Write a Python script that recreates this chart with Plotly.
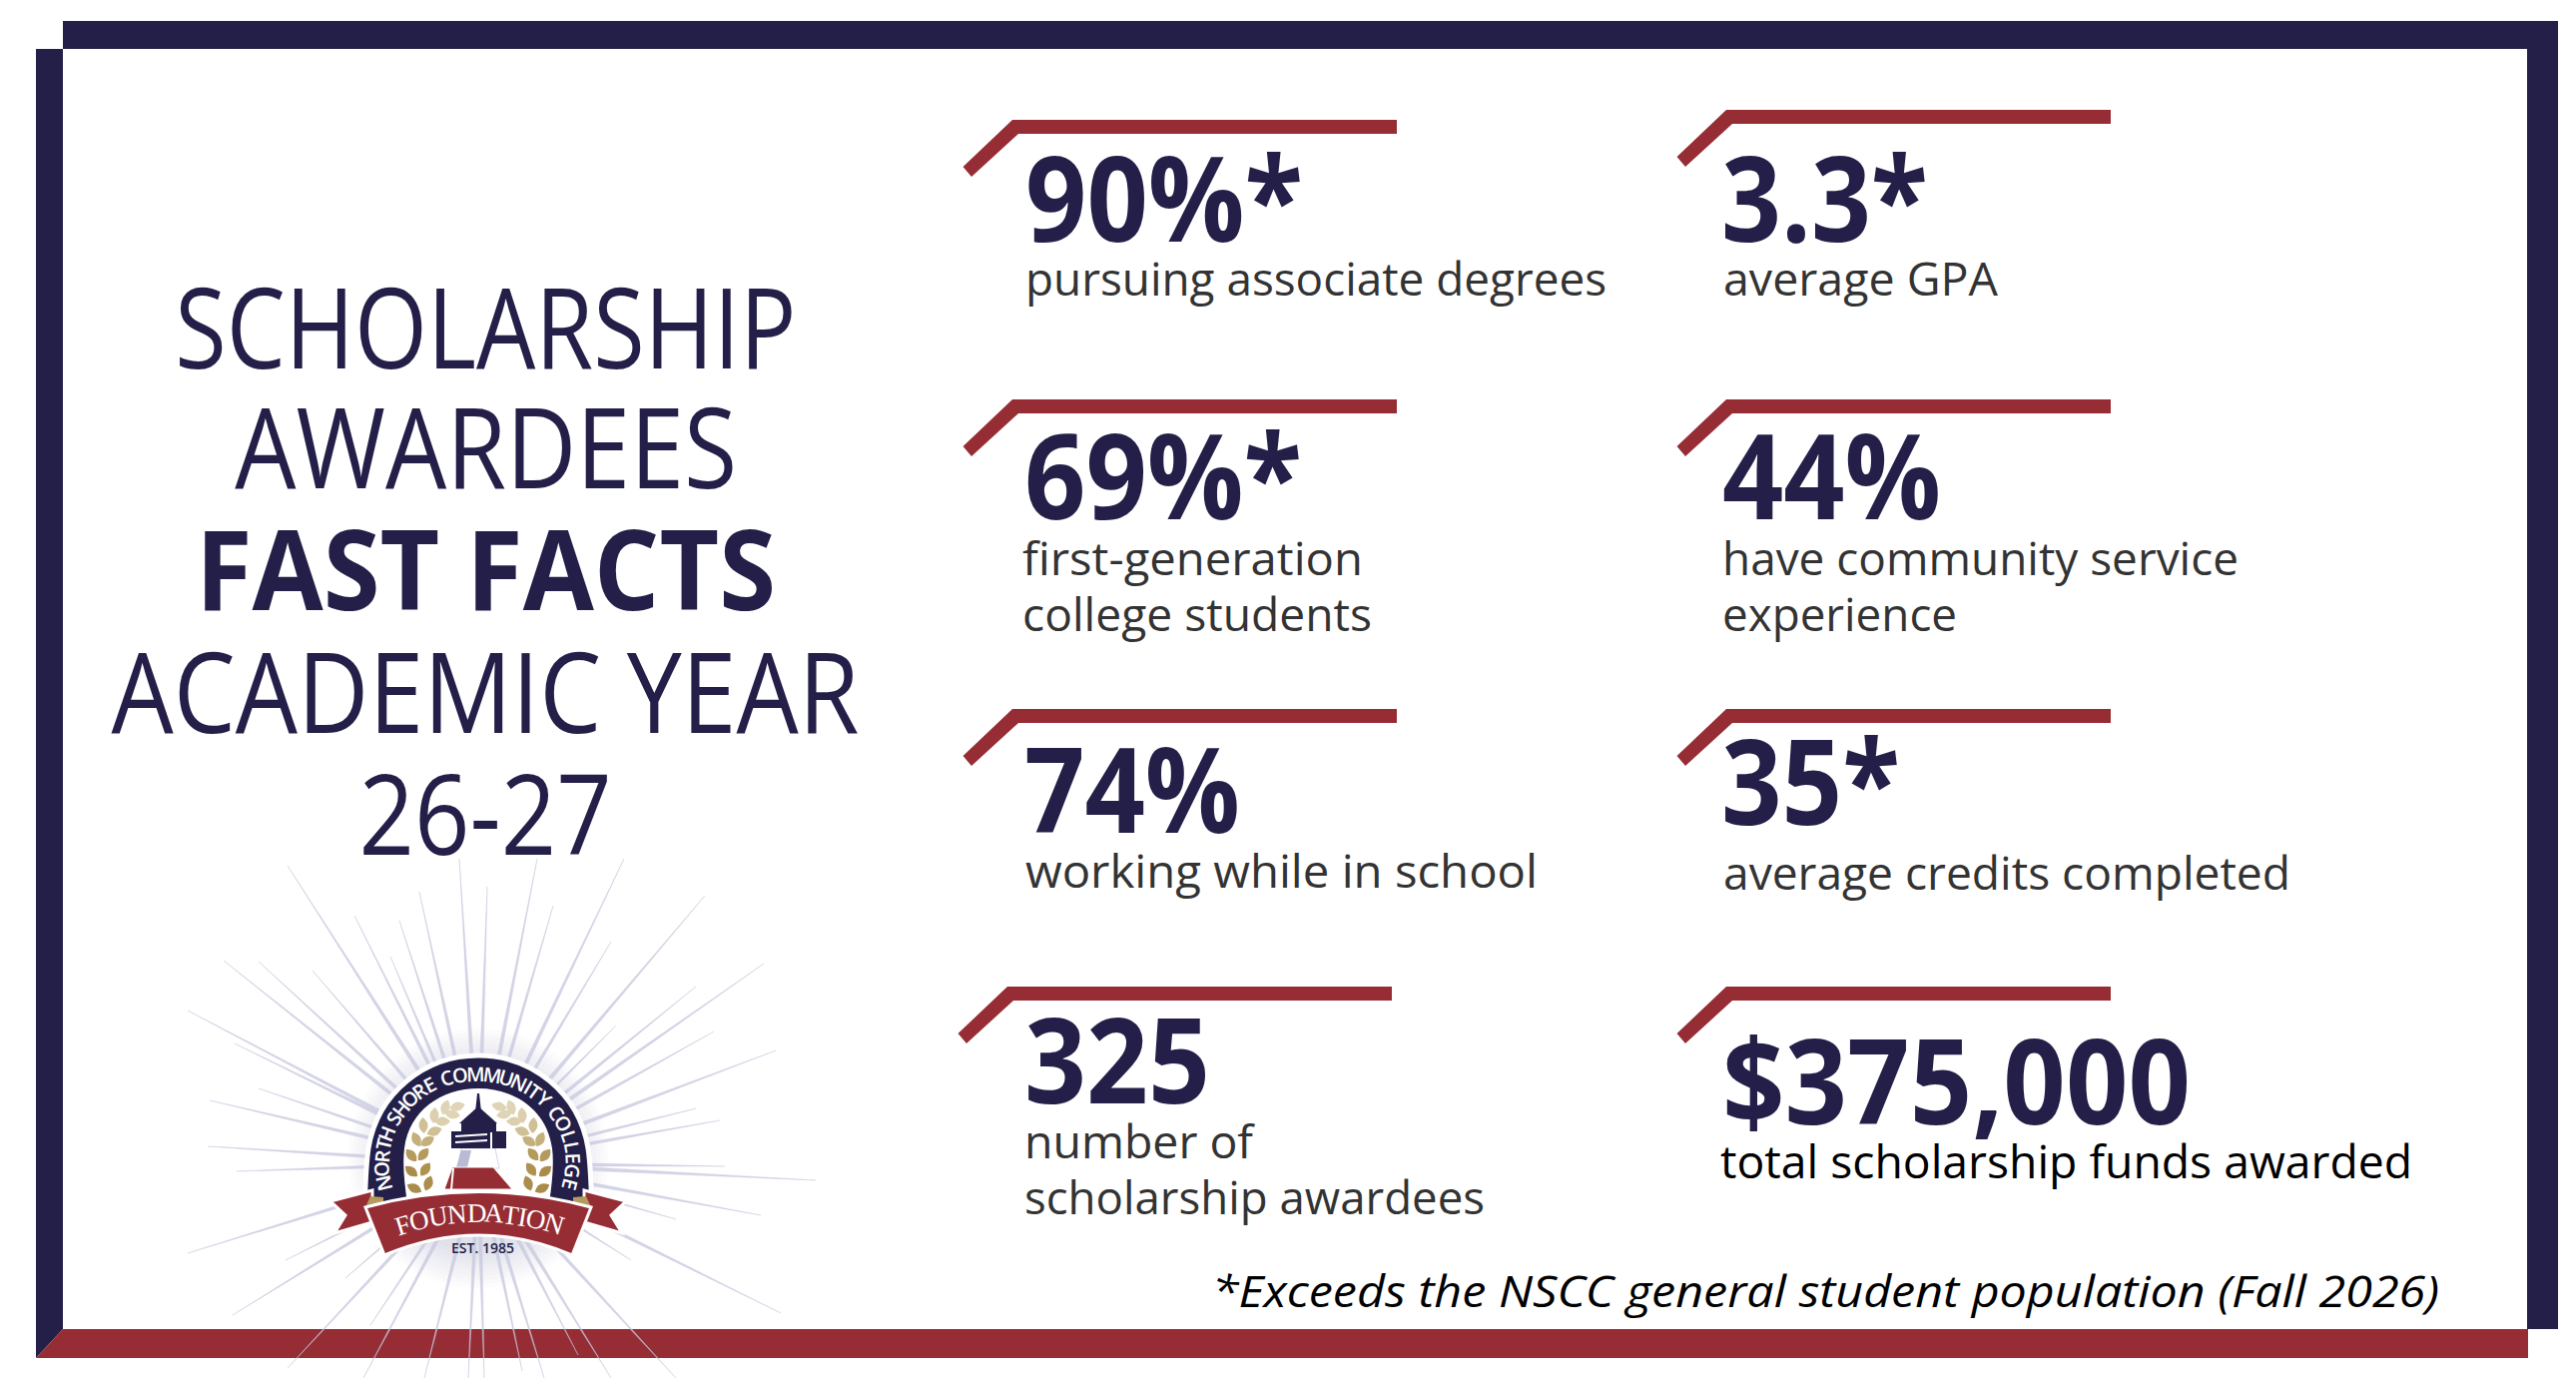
import json
import numpy as np
import plotly.graph_objects as go

# text and values
title_lines = ["SCHOLARSHIP", "AWARDEES", "FAST FACTS", "ACADEMIC YEAR", "26-27"]
title_bold = [False, False, True, False, False]
stat_values = ["90%*", "3.3*", "69%*", "44%", "74%", "35*", "325", "$375,000"]
stat_labels = [
    ["pursuing associate degrees"],
    ["average GPA"],
    ["first-generation", "college students"],
    ["have community service", "experience"],
    ["working while in school"],
    ["average credits completed"],
    ["number of", "scholarship awardees"],
    ["total scholarship funds awarded"],
]
footnote = "*Exceeds the NSCC general student population (Fall 2026)"
logo_arch_text = "NORTH SHORE COMMUNITY COLLEGE"
logo_ribbon_text = "FOUNDATION"
logo_est = "EST. 1985"

NAVY = "#231f48"
RED = "#962d35"
GREY = "#333333"
SANS = "Open Sans"

# layout, in pixels of the 2580x1380 page
num_x = [1026, 1723, 1025, 1724, 1025, 1723, 1025, 1724]
num_base = [243, 243, 521, 521, 835, 827, 1106, 1127]
label_x = [1026, 1725, 1023, 1724, 1026, 1725, 1025, 1722]
label_base = [297, 297, 577, 577, 890, 892, 1161, 1181]
chev_corner = [1014, 1729, 1014, 1729, 1014, 1729, 1009, 1729]
chev_top = [120, 110, 400, 400, 710, 710, 988, 988]
title_base = [370, 490, 612, 735, 857]

# measured widths of each line in the reference, the fonts here run wider than its Myriad
title_w = [622, 503, 581, 749, 253]
num_w = [278, 207, 278, 219, 216, 179, 186, 469]
label_w = [[582], [275], [341, 350], [517, 235], [513], [568], [229, 461], [693]]
footnote_w = 1229
fit_width = {footnote: footnote_w}


def text(x, base, s, size, color=NAVY, weight=400, italic=False, anchor="left", fam=SANS):
    # annotations sit by their box, so push down by the font's descent to place the baseline
    return dict(
        x=x, y=base + 0.293 * size, text=s, showarrow=False, xref="x", yref="y",
        xanchor=anchor, yanchor="bottom", align=anchor, borderpad=0,
        font=dict(family=fam, size=size, color=color, weight=weight,
                  style="italic" if italic else "normal"),
    )


def chevron(cx, top):
    right = cx + 385
    return (f"M {cx},{top} L {right},{top} L {right},{top+14} L {cx+6},{top+14} "
            f"L {cx-41},{top+57} L {cx-49.5},{top+47} Z")


def leaf(x, y, ang, length=16, width=18):
    a = np.radians(ang)
    ux, uy = np.cos(a) * length / 2, np.sin(a) * length / 2
    vx, vy = -np.sin(a) * width / 2, np.cos(a) * width / 2
    return (f"M {x-ux:.1f},{y-uy:.1f} Q {x+vx:.1f},{y+vy:.1f} {x+ux:.1f},{y+uy:.1f} "
            f"Q {x-vx:.1f},{y-vy:.1f} {x-ux:.1f},{y-uy:.1f} Z")


def poly(pts):
    return "M " + " L ".join(f"{a},{b}" for a, b in pts) + " Z"


shapes = []


def add_path(path, fill, line=None, lw=0, layer="above"):
    shapes.append(dict(type="path", path=path, fillcolor=fill, layer=layer, xref="x", yref="y",
                       line=dict(color=line or fill, width=lw)))


def add_rect(x0, y0, x1, y1, color):
    shapes.append(dict(type="rect", x0=x0, y0=y0, x1=x1, y1=y1, fillcolor=color, layer="below",
                       line=dict(width=0), xref="x", yref="y"))


# frame
add_rect(63, 21, 2562, 49, NAVY)
add_path(poly([(36, 49), (63, 49), (63, 1331), (36, 1360)]), NAVY, layer="below")
add_rect(2531, 49, 2562, 1331, NAVY)
add_path(poly([(63, 1331), (2532, 1331), (2532, 1360), (36, 1360)]), RED, layer="below")

for cx, top in zip(chev_corner, chev_top):
    add_path(chevron(cx, top), RED, layer="below")

# logo glow
for r in range(130, 90, -4):
    shapes.append(dict(type="circle", x0=479 - r, x1=479 + r, y0=1160 - r, y1=1160 + r, layer="below",
                       fillcolor="rgba(120,120,170,0.025)", line=dict(width=0), xref="x", yref="y"))

# burst ends
ray_end_x = [288, 355, 400, 420, 391, 460, 488, 538, 554, 625, 612, 706, 617, 697, 765, 715, 777,
             721, 697, 726, 817, 762, 677, 782, 632, 224, 259, 313, 188, 235, 259, 210, 208, 237,
             188, 286, 233, 346, 371, 288, 364, 425, 469, 485, 523, 545, 579, 612, 677]
ray_end_y = [867, 917, 922, 893, 958, 860, 888, 860, 907, 860, 943, 897, 1027, 988, 965, 1033, 1052,
             1122, 1110, 1168, 1182, 1217, 1221, 1315, 1262, 962, 963, 972, 1012, 1045, 1090, 1102,
             1148, 1173, 1255, 1262, 1317, 1280, 1327, 1370, 1380, 1380, 1380, 1380, 1373, 1380,
             1357, 1380, 1380]
rx, ry = [], []
for ex, ey in zip(ray_end_x, ray_end_y):
    dx, dy = ex - 479, ey - 1165
    n = np.hypot(dx, dy)
    nx, ny = -dy / n * 2.6, dx / n * 2.6
    rx += [479 + nx, ex, 479 - nx, None]
    ry += [1165 + ny, ey, 1165 - ny, None]

fig = go.Figure()
fig.add_trace(go.Scatter(x=rx, y=ry, mode="lines", fill="toself", line=dict(width=0.5, color="rgba(200,201,222,0.8)"),
                         fillcolor="rgba(200,201,222,0.8)", hoverinfo="skip", showlegend=False))

# logo, drawn back to front
ARCH_OUT = ("M 365,1216 C 366,1190 366,1170 369,1150 C 378,1095 425,1057 479,1057 "
            "C 533,1057 580,1095 589,1150 C 592,1170 592,1190 593,1216 Z")
ARCH_IN = ("M 408,1205 C 405,1185 403,1165 405,1150 C 410,1112 442,1090 479,1090 "
           "C 516,1090 548,1112 553,1150 C 555,1165 553,1185 550,1205 Z")
add_path(ARCH_OUT, NAVY, "white", 5)
add_path(ARCH_IN, "white")

left_leaves = [(415, 1190, 25, "#a98b4c"), (429, 1185, -70, "#ab8d4d"), (412, 1173, 40, "#a98b4c"),
               (426, 1171, -55, "#b0924f"), (412, 1157, 50, "#b49a5c"), (424, 1156, -50, "#b49a5c"),
               (417, 1141, 65, "#c4b07c"), (428, 1143, -30, "#c4b07c"), (424, 1127, 85, "#d0c096"),
               (435, 1133, -20, "#d0c096"), (435, 1117, -85, "#dccfae"), (443, 1123, 0, "#dccfae"),
               (446, 1109, -70, "#e0d4b6"), (453, 1116, 10, "#e0d4b6"), (458, 1108, -15, "#e0d4b6")]
for x, y, a, c in left_leaves:
    add_path(leaf(x, y, a), c)
    add_path(leaf(958 - x, y, 180 - a), c)

# lighthouse
add_path(poly([(462, 1150), (496, 1150), (500, 1170), (458, 1170)]), "#ffffff", "#d5d6e6", 1)
add_path(poly([(462, 1152), (472, 1152), (468, 1169), (457, 1169)]), "#b9bad4")
add_path(poly([(478, 1095), (480, 1095), (482, 1114), (476, 1114)]), NAVY)
add_path(poly([(479, 1108), (498, 1125), (460, 1125)]), NAVY)
add_path(poly([(462, 1124), (497, 1124), (497, 1136), (462, 1136)]), NAVY)
add_path(poly([(452, 1133), (507, 1133), (507, 1150), (452, 1150)]), NAVY)
add_path(poly([(456, 1137), (488, 1135), (488, 1137), (456, 1139)]), "white")
add_path(poly([(456, 1143), (488, 1141), (488, 1143), (456, 1145)]), "white")
add_path(poly([(491, 1134), (493, 1134), (493, 1150), (491, 1150)]), "white")
add_path(poly([(453, 1169), (494, 1169), (513, 1191), (445, 1191)]), RED, "white", 1)
add_path(poly([(453, 1170), (455, 1170), (453, 1191), (451, 1191)]), "white")

# ribbon
add_path(poly([(331, 1203), (373, 1192), (373, 1224), (335, 1235), (346, 1217)]), RED, "white", 3)
add_path(poly([(627, 1203), (585, 1192), (585, 1224), (623, 1235), (612, 1217)]), RED, "white", 3)
add_path(poly([(366, 1209), (371, 1198), (384, 1199), (384, 1207)]), "#b49a5f")
add_path(poly([(592, 1209), (587, 1198), (574, 1199), (574, 1207)]), "#b49a5f")
add_path("M 366,1209 Q 480,1178 592,1209 L 573,1257 Q 480,1217 385,1257 Z", RED, "white", 3)

annotations = []
for s, bold, base, w in zip(title_lines, title_bold, title_base, title_w):
    annotations.append(text(486, base, s, 112, weight=700 if bold else 500, anchor="center"))
    fit_width[s] = w
for s, x, base, w in zip(stat_values, num_x, num_base, num_w):
    annotations.append(text(x, base, s, 118, weight=700))
    fit_width[s] = w
for lines, x, base, widths in zip(stat_labels, label_x, label_base, label_w):
    for i, s in enumerate(lines):
        annotations.append(text(x, base + 56 * i, s, 46, color="#000000" if "funds" in s else GREY))
        fit_width[s] = widths[i]
annotations.append(text(1213, 1310, footnote, 44, color="#000000", italic=True))


def char_weight(c):
    if c in " I":
        return 0.45
    if c in "MW":
        return 1.35
    if c in "OCGDNU":
        return 1.12
    return 0.95


# curved logo lettering, one annotation per letter
th = np.radians(np.linspace(197, -17, 800))
ax, ay = 478 + 96 * np.cos(th), 1165 - 90 * np.sin(th)
seg = np.hypot(np.diff(ax), np.diff(ay))
arc = np.concatenate([[0], np.cumsum(seg)])
weights = [char_weight(c) for c in logo_arch_text]
edges = np.concatenate([[0], np.cumsum(weights)]) / sum(weights) * arc[-1]
for c, w0, w1 in zip(logo_arch_text, edges[:-1], edges[1:]):
    if c == " ":
        continue
    i = min(int(np.searchsorted(arc, (w0 + w1) / 2)), len(ax) - 2)
    ang = np.degrees(np.arctan2(ay[i + 1] - ay[i], ax[i + 1] - ax[i]))
    annotations.append(dict(x=ax[i], y=ay[i], text=c, showarrow=False, xanchor="center", yanchor="middle",
                            textangle=ang, font=dict(family=SANS, size=20, color="white", weight=600), borderpad=0))
rib_w = np.array([char_weight(c) for c in logo_ribbon_text])
rib_edges = np.concatenate([[0], np.cumsum(rib_w)]) / rib_w.sum()
for c, p0, p1 in zip(logo_ribbon_text, rib_edges[:-1], rib_edges[1:]):
    a = np.radians(-19 + 38 * (p0 + p1) / 2)
    annotations.append(dict(x=480 + 259.5 * np.sin(a), y=1474.5 - 259.5 * np.cos(a), text=c, showarrow=False,
                            xanchor="center", yanchor="middle", textangle=np.degrees(a), borderpad=0,
                            font=dict(family="Liberation Serif", size=27, color="white")))
annotations.append(dict(x=483, y=1249, text=logo_est, showarrow=False, xanchor="center", yanchor="middle",
                        font=dict(family=SANS, size=14, color=NAVY, weight=600), borderpad=0))

fig.update_layout(
    width=2580, height=1380, margin=dict(l=0, r=0, t=0, b=0),
    paper_bgcolor="white", plot_bgcolor="white", showlegend=False,
    xaxis=dict(range=[0, 2580], visible=False, fixedrange=True),
    yaxis=dict(range=[1380, 0], visible=False, fixedrange=True),
    shapes=shapes, annotations=annotations,
)

post = """
document.body.style.margin = '0';
var fit = %s;
document.querySelectorAll('.annotation-text').forEach(function (t) {
    var w = fit[t.textContent];
    if (w) { t.setAttribute('textLength', w); t.setAttribute('lengthAdjust', 'spacingAndGlyphs'); }
});
""" % json.dumps(fit_width)
fig.write_html("out.html", config={"displayModeBar": False}, post_script=post)
